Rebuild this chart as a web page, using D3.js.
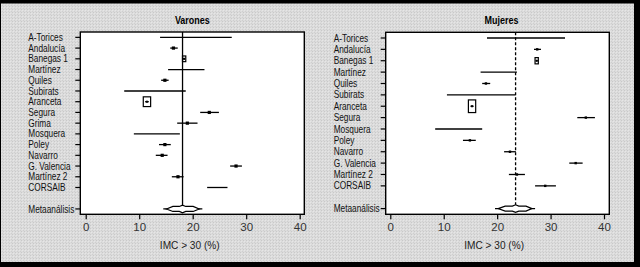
<!DOCTYPE html>
<html><head><meta charset="utf-8">
<script src="https://cdn.jsdelivr.net/npm/d3@7"></script>
<style>
html,body{margin:0;padding:0;background:#fff;}
svg{display:block;}
text{font-family:"Liberation Sans",Arial,sans-serif;}
</style></head>
<body>
<script>
// ---------- data ----------
const panelTitles = ["Varones", "Mujeres"];
const axisTitle = "IMC > 30 (%)";
const xTicks = [0, 10, 20, 30, 40];
const metaLabel = "Metaanálisis";

const studiesV = ["A-Torices","Andalucía","Banegas 1","Martínez","Quiles","Subirats","Aranceta","Segura","Grima","Mosquera","Poley","Navarro","G. Valencia","Martínez 2","CORSAIB"];
const estV = [20.5,16.4,18.4,18.5,14.8,12.5,11.45,23.1,19.0,13.0,14.8,14.3,28.1,17.25,24.6];
const loV  = [13.9,15.8,18.2,15.4,14.1,7.2,11.1,21.4,17.1,9.0,13.7,13.1,27.0,16.1,22.7];
const hiV  = [27.3,17.2,18.6,22.2,15.5,18.7,11.8,24.9,20.9,17.6,15.9,15.3,29.2,18.3,26.5];
const wV   = [0,1,1.2,0,1,0,6,1,1,0,1,1,1,1,0];

const studiesM = ["A-Torices","Andalucía","Banegas 1","Martínez","Quiles","Subirats","Aranceta","Segura","Mosquera","Poley","Navarro","G. Valencia","Martínez 2","CORSAIB"];
const estM = [25.4,27.5,27.4,20.3,17.9,17.0,15.3,36.6,12.8,14.9,22.4,34.7,23.7,29.0];
const loM  = [18.1,26.9,27.2,16.9,17.2,10.6,15.0,35.0,8.4,13.6,21.3,33.5,22.2,27.1];
const hiM  = [32.7,28.2,27.6,23.7,18.7,23.4,15.6,38.3,17.2,16.0,23.5,36.0,25.2,31.0];
const wM   = [0,1,1.2,0,1,0,5.9,1,0,1,1,1,1,1];

// meta-analysis: pooled estimate, CI, prediction interval (Varones, Mujeres)
const metaEst  = [18.1, 23.45];
const metaLo   = [15.1, 20.2];
const metaHi   = [21.2, 26.5];
const metaPiLo = [14.5, 19.6];
const metaPiHi = [21.8, 27.1];

// ---------- drawing ----------
const W = 640, H = 267;
const svg = d3.select("body").append("svg").attr("width", W).attr("height", H);
const defs = svg.append("defs");
const pat = defs.append("pattern").attr("id","hatch").attr("width",3).attr("height",3)
  .attr("patternUnits","userSpaceOnUse");
pat.append("rect").attr("width",3).attr("height",3).attr("fill","#dcdcdc");
pat.append("rect").attr("x",0).attr("y",0).attr("width",1).attr("height",1).attr("fill","#c9c9c9");
pat.append("rect").attr("x",1).attr("y",1).attr("width",1).attr("height",1).attr("fill","#e6e6e6");
pat.append("rect").attr("x",2).attr("y",2).attr("width",1).attr("height",1).attr("fill","#cfcfcf");

svg.append("rect").attr("width",W).attr("height",H).attr("fill","#000");
svg.append("rect").attr("x",1).attr("y",3.5).attr("width",633).attr("height",258.5).attr("fill","url(#hatch)");

// condensed text helper
function ctext(sel, x, y, str, size, sx, anchor, weight, fill) {
  return sel.append("text")
    .attr("transform", `translate(${x},${y}) scale(${sx},1)`)
    .attr("text-anchor", anchor || "start")
    .attr("font-size", size)
    .attr("font-weight", weight || "normal")
    .attr("fill", fill || "#111")
    .text(str);
}

const panels = [
  {title: panelTitles[0], names: studiesV, est: estV, lo: loV, hi: hiV, w: wV,
   left: 80.3, right: 304.3, x0: 85.7, x40: 299.7, top: 32, dashed: false, mark: 3.2, aspect: [1, 2.4]},
  {title: panelTitles[1], names: studiesM, est: estM, lo: loM, hi: hiM, w: wM,
   left: 385.7, right: 609.3, x0: 390.3, x40: 604, top: 32.3, dashed: true, mark: 2.4, aspect: [1.6, 1]}
];
const bottom = 214.3;

panels.forEach((p, pi) => {
  const n = p.names.length;
  const x = d3.scaleLinear().domain([0, 40]).range([p.x0, p.x40]);
  const y = d3.scaleLinear().domain([-0.5, n + 1.5]).range([p.top, bottom]);
  const g = svg.append("g");

  // plot box
  g.append("rect").attr("x", p.left).attr("y", p.top)
    .attr("width", p.right - p.left).attr("height", bottom - p.top)
    .attr("fill", "#fff").attr("stroke", "#000").attr("stroke-width", 1.4);

  // title
  ctext(g, (p.left + p.right) / 2 + (pi ? 4 : 0), 24, p.title, 11.5, 0.78, "middle", "bold", "#000");

  // x axis
  const xa = g.append("g").attr("transform", `translate(0,${bottom})`)
    .call(d3.axisBottom(x).tickValues(xTicks).tickSize(5).tickPadding(4).tickFormat(d3.format("d")));
  xa.select(".domain").remove();
  xa.selectAll("line").attr("stroke", "#000").attr("stroke-width", 1.2);
  xa.selectAll("text").attr("font-size", 11.5).attr("fill", "#333");

  ctext(g, (p.x0 + p.x40) / 2 - 3, 249, axisTitle, 11, 0.92, "middle", "normal", "#222");

  // y ticks + labels
  const rowIdx = d3.range(n).concat([n + 1]);
  const rowNames = p.names.concat([metaLabel]);
  rowIdx.forEach((ri, k) => {
    g.append("line").attr("x1", p.left - 5).attr("x2", p.left)
      .attr("y1", y(ri)).attr("y2", y(ri)).attr("stroke", "#000").attr("stroke-width", 1.2);
    ctext(g, p.left - 52, y(ri) + 3.6, rowNames[k], 10, 0.83, "start", "normal", "#111");
  });

  // reference line (pooled estimate)
  const ym = y(n + 1);
  g.append("line").attr("x1", x(metaEst[pi])).attr("x2", x(metaEst[pi]))
    .attr("y1", p.top).attr("y2", ym - 3.5)
    .attr("stroke", "#000").attr("stroke-width", 1.3)
    .attr("stroke-dasharray", p.dashed ? "3,2" : null);

  // studies
  p.names.forEach((nm, i) => {
    const yy = y(i);
    g.append("line").attr("x1", x(p.lo[i])).attr("x2", x(p.hi[i]))
      .attr("y1", yy).attr("y2", yy).attr("stroke", "#000").attr("stroke-width", 1.3);
    const w = p.w[i];
    if (w > 1.1) {
      const bw = 3 * Math.sqrt(w);
      const bh = bw * p.aspect[0] + p.aspect[1];
      g.append("rect").attr("x", x(p.est[i]) - bw / 2).attr("y", yy - bh / 2)
        .attr("width", bw).attr("height", bh)
        .attr("fill", "none").attr("stroke", "#000").attr("stroke-width", 1.2);
      g.append("rect").attr("x", x(p.est[i]) - 1).attr("y", yy - 1)
        .attr("width", 2).attr("height", 2).attr("fill", "#000");
    } else if (w > 0) {
      const s = p.mark;
      g.append("rect").attr("x", x(p.est[i]) - s / 2).attr("y", yy - s / 2)
        .attr("width", s).attr("height", s).attr("fill", "#000");
    }
  });

  // meta-analysis diamond
  g.append("line").attr("x1", x(metaPiLo[pi])).attr("x2", x(metaPiHi[pi]))
    .attr("y1", ym).attr("y2", ym).attr("stroke", "#000").attr("stroke-width", 1.3);
  const e = metaEst[pi], lo = metaLo[pi], hi = metaHi[pi];
  const sl = lo + (e - lo) * 0.4, sr = hi - (hi - e) * 0.36;
  const bl = e - 0.6, br = e + 0.6;
  const pts = [
    [x(lo), ym], [x(sl), ym - 2.5], [x(bl), ym - 2.5], [x(e), ym - 3.8], [x(br), ym - 2.5],
    [x(sr), ym - 2.5], [x(hi), ym], [x(sr), ym + 2.5], [x(br), ym + 2.5], [x(e), ym + 3.8],
    [x(bl), ym + 2.5], [x(sl), ym + 2.5]
  ];
  g.append("polygon").attr("points", pts.map(d => d.join(",")).join(" "))
    .attr("fill", "#fff").attr("stroke", "#000").attr("stroke-width", 1.2);
});
</script>
</body></html>
